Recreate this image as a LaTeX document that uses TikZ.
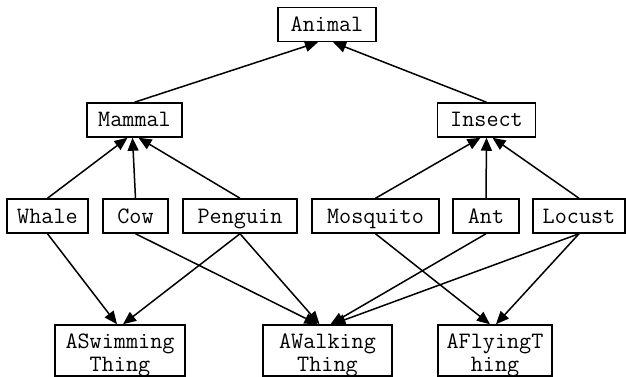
\documentclass[tikz,border=0pt]{standalone}
\usetikzlibrary{arrows.meta,calc}
\newcommand{\twolines}[2]{\begin{tabular}[t]{@{}c@{}}#1\\#2\end{tabular}}
\begin{document}
\begin{tikzpicture}[x=1pt,y=-1pt,
  box/.style={draw, line width=1.5pt, inner sep=0pt, font=\ttfamily\fontsize{23.5}{23}\selectfont,
    minimum height=34pt, text height=14pt, text depth=0pt},
  tallbox/.style={draw, line width=1.5pt, inner sep=0pt, font=\ttfamily\fontsize{23.5}{23}\selectfont,
    minimum height=51pt, text height=20pt, text depth=25pt},
  edge/.style={line width=1.5pt, -{Triangle[length=13pt,width=11pt]}}]
\useasboundingbox (0,0) rectangle (626,377);
\node[box, minimum width=98pt] (animal) at (327,24.5) {Animal};
\node[box, minimum width=95pt] (mammal) at (134.5,120) {Mammal};
\node[box, minimum width=98pt] (insect) at (486.5,120) {Insect};
\node[box, minimum width=81pt] (whale) at (47.5,216) {Whale};
\node[box, minimum width=65pt] (cow) at (135.5,216) {Cow};
\node[box, minimum width=114pt] (penguin) at (240,216) {Penguin};
\node[box, minimum width=127pt] (mosquito) at (375.5,216) {Mosquito};
\node[box, minimum width=66pt] (ant) at (486,216) {Ant};
\node[box, minimum width=92pt] (locust) at (579,216) {Locust};
\node[tallbox, minimum width=130pt] (aswim) at (120,350.5) {\twolines{ASwimming}{Thing}};
\node[tallbox, minimum width=129pt] (awalk) at (327.5,350.5) {\twolines{AWalking}{Thing}};
\node[tallbox, minimum width=114pt] (afly) at (495,350.5) {\twolines{AFlyingT}{hing}};
\draw[edge] (mammal.north) -- ($(animal.south)+(-9,0)$);
\draw[edge] (insect.north) -- ($(animal.south)+(6,0)$);
\draw[edge] (whale.north) -- ($(mammal.south)+(-7,0)$);
\draw[edge] (cow.north) -- ($(mammal.south)+(-2,0)$);
\draw[edge] (penguin.north) -- ($(mammal.south)+(4,0)$);
\draw[edge] (mosquito.north) -- ($(insect.south)+(-6,0)$);
\draw[edge] (ant.north) -- (insect.south);
\draw[edge] (locust.north) -- ($(insect.south)+(6,0)$);
\draw[edge] (whale.south) -- ($(aswim.north)+(-3,0)$);
\draw[edge] (penguin.south) -- ($(aswim.north)+(3,0)$);
\draw[edge] (cow.south) -- ($(awalk.north)+(-10,0)$);
\draw[edge] (penguin.south) -- ($(awalk.north)+(-8,0)$);
\draw[edge] (ant.south) -- ($(awalk.north)+(3,0)$);
\draw[edge] (locust.south) -- ($(awalk.north)+(5,0)$);
\draw[edge] (mosquito.south) -- ($(afly.north)+(-5,0)$);
\draw[edge] (locust.south) -- ($(afly.north)+(1,0)$);
\end{tikzpicture}
\end{document}
